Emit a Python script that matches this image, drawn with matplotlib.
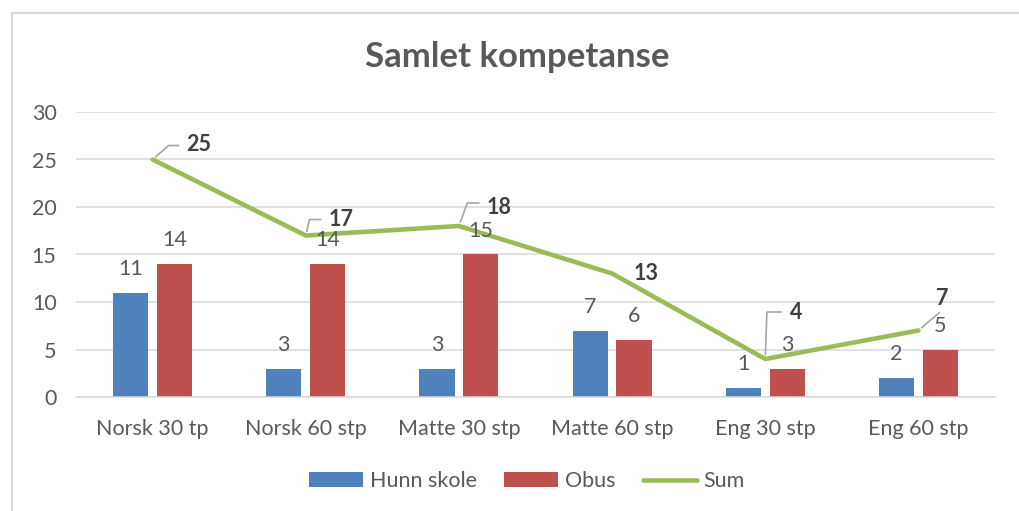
import numpy as np
import matplotlib.pyplot as plt
from matplotlib.patches import Rectangle

# data
categories = ['Norsk 30 tp', 'Norsk 60 stp', 'Matte 30 stp', 'Matte 60 stp', 'Eng 30 stp', 'Eng 60 stp']
hunn_skole = [11, 3, 3, 7, 1, 2]
obus = [14, 14, 15, 6, 3, 5]
total = [25, 17, 18, 13, 4, 7]

BLUE = '#4F81BD'
RED = '#C0504D'
GREEN = '#9BBB59'
TEXT = '#595959'
GRID = '#D9D9D9'

plt.rcParams['font.family'] = ['Lato', 'DejaVu Sans']
FS = 15.5

fig = plt.figure(figsize=(10.2, 5.11), dpi=100)
W, H = 1020, 511
ax = fig.add_axes([76 / W, 1 - 397 / H, (995 - 76) / W, (397 - 112) / H])

x = np.arange(len(categories))
bw = 0.229
off = 0.143

b1 = ax.bar(x - off, hunn_skole, bw, color=BLUE, label='Hunn skole', zorder=2)
b2 = ax.bar(x + off, obus, bw, color=RED, label='Obus', zorder=2)
l1, = ax.plot(x, total, color=GREEN, lw=3.3, label='Sum', zorder=3, solid_capstyle='round')

# bar value labels
for i in range(len(x)):
    ax.annotate(str(hunn_skole[i]), (x[i] - off, hunn_skole[i]), xytext=(0, 24),
                textcoords='offset pixels', ha='center', va='center', fontsize=FS, color=TEXT)
    ax.annotate(str(obus[i]), (x[i] + off, obus[i]), xytext=(0, 24),
                textcoords='offset pixels', ha='center', va='center', fontsize=FS, color=TEXT)

# sum labels with leader lines (offsets in pixels)
label_off = [(46, 15), (35, 16), (40, 19), (34, 0), (31, 47), (24, 32)]
leader = [((26, 14), 'angle,angleA=0,angleB=41'),
          ((15, 16), 'angle,angleA=0,angleB=77'),
          ((20, 23), 'angle,angleA=0,angleB=70'),
          None,
          ((16, 47), 'angle,angleA=0,angleB=88'),
          ((21, 18), 'arc3')]
for i, v in enumerate(total):
    if leader[i] is not None:
        (lx, ly), cs = leader[i]
        ax.annotate('', xy=(x[i], v), xytext=(lx, ly), textcoords='offset pixels',
                    arrowprops=dict(arrowstyle='-', color='#A6A6A6', lw=1.2,
                                    shrinkA=0, shrinkB=3, connectionstyle=cs),
                    zorder=4)
    ax.annotate(str(v), (x[i], v), xytext=label_off[i], textcoords='offset pixels',
                ha='center', va='center', fontsize=FS, fontweight='bold', color='#404040',
                zorder=5)

ax.set_xlim(-0.5, len(categories) - 0.5)
ax.set_ylim(0, 30)
ax.set_yticks(range(0, 31, 5))
ax.set_xticks(x)
ax.set_xticklabels(categories)
ax.tick_params(axis='both', length=0, labelsize=FS, labelcolor=TEXT)
ax.tick_params(axis='y', pad=14)
ax.tick_params(axis='x', pad=16)
ax.yaxis.grid(True, color=GRID, lw=1.1, zorder=0)
ax.set_axisbelow(True)
for s in ['top', 'right', 'left']:
    ax.spines[s].set_visible(False)
ax.spines['bottom'].set_color(GRID)
ax.spines['bottom'].set_linewidth(1.1)

fig.text(517 / W, 1 - 57 / H, 'Samlet kompetanse', ha='center', va='center',
         fontsize=25, fontweight='bold', color=TEXT)

fig.legend([b1, b2, l1], ['Hunn skole', 'Obus', 'Sum'], loc='center',
           bbox_to_anchor=(527 / W, 1 - 481 / H), ncol=3, frameon=False,
           fontsize=FS, labelcolor=TEXT, handlelength=2.5, handleheight=0.68,
           columnspacing=1.3, handletextpad=0.3)

# chart border
fig.patches.append(Rectangle((12 / W, -0.05), 1.2, 1 - 13 / H + 0.05, transform=fig.transFigure,
                             fill=False, edgecolor=GRID, lw=1.5))

fig.savefig('out.png', dpi=100)
